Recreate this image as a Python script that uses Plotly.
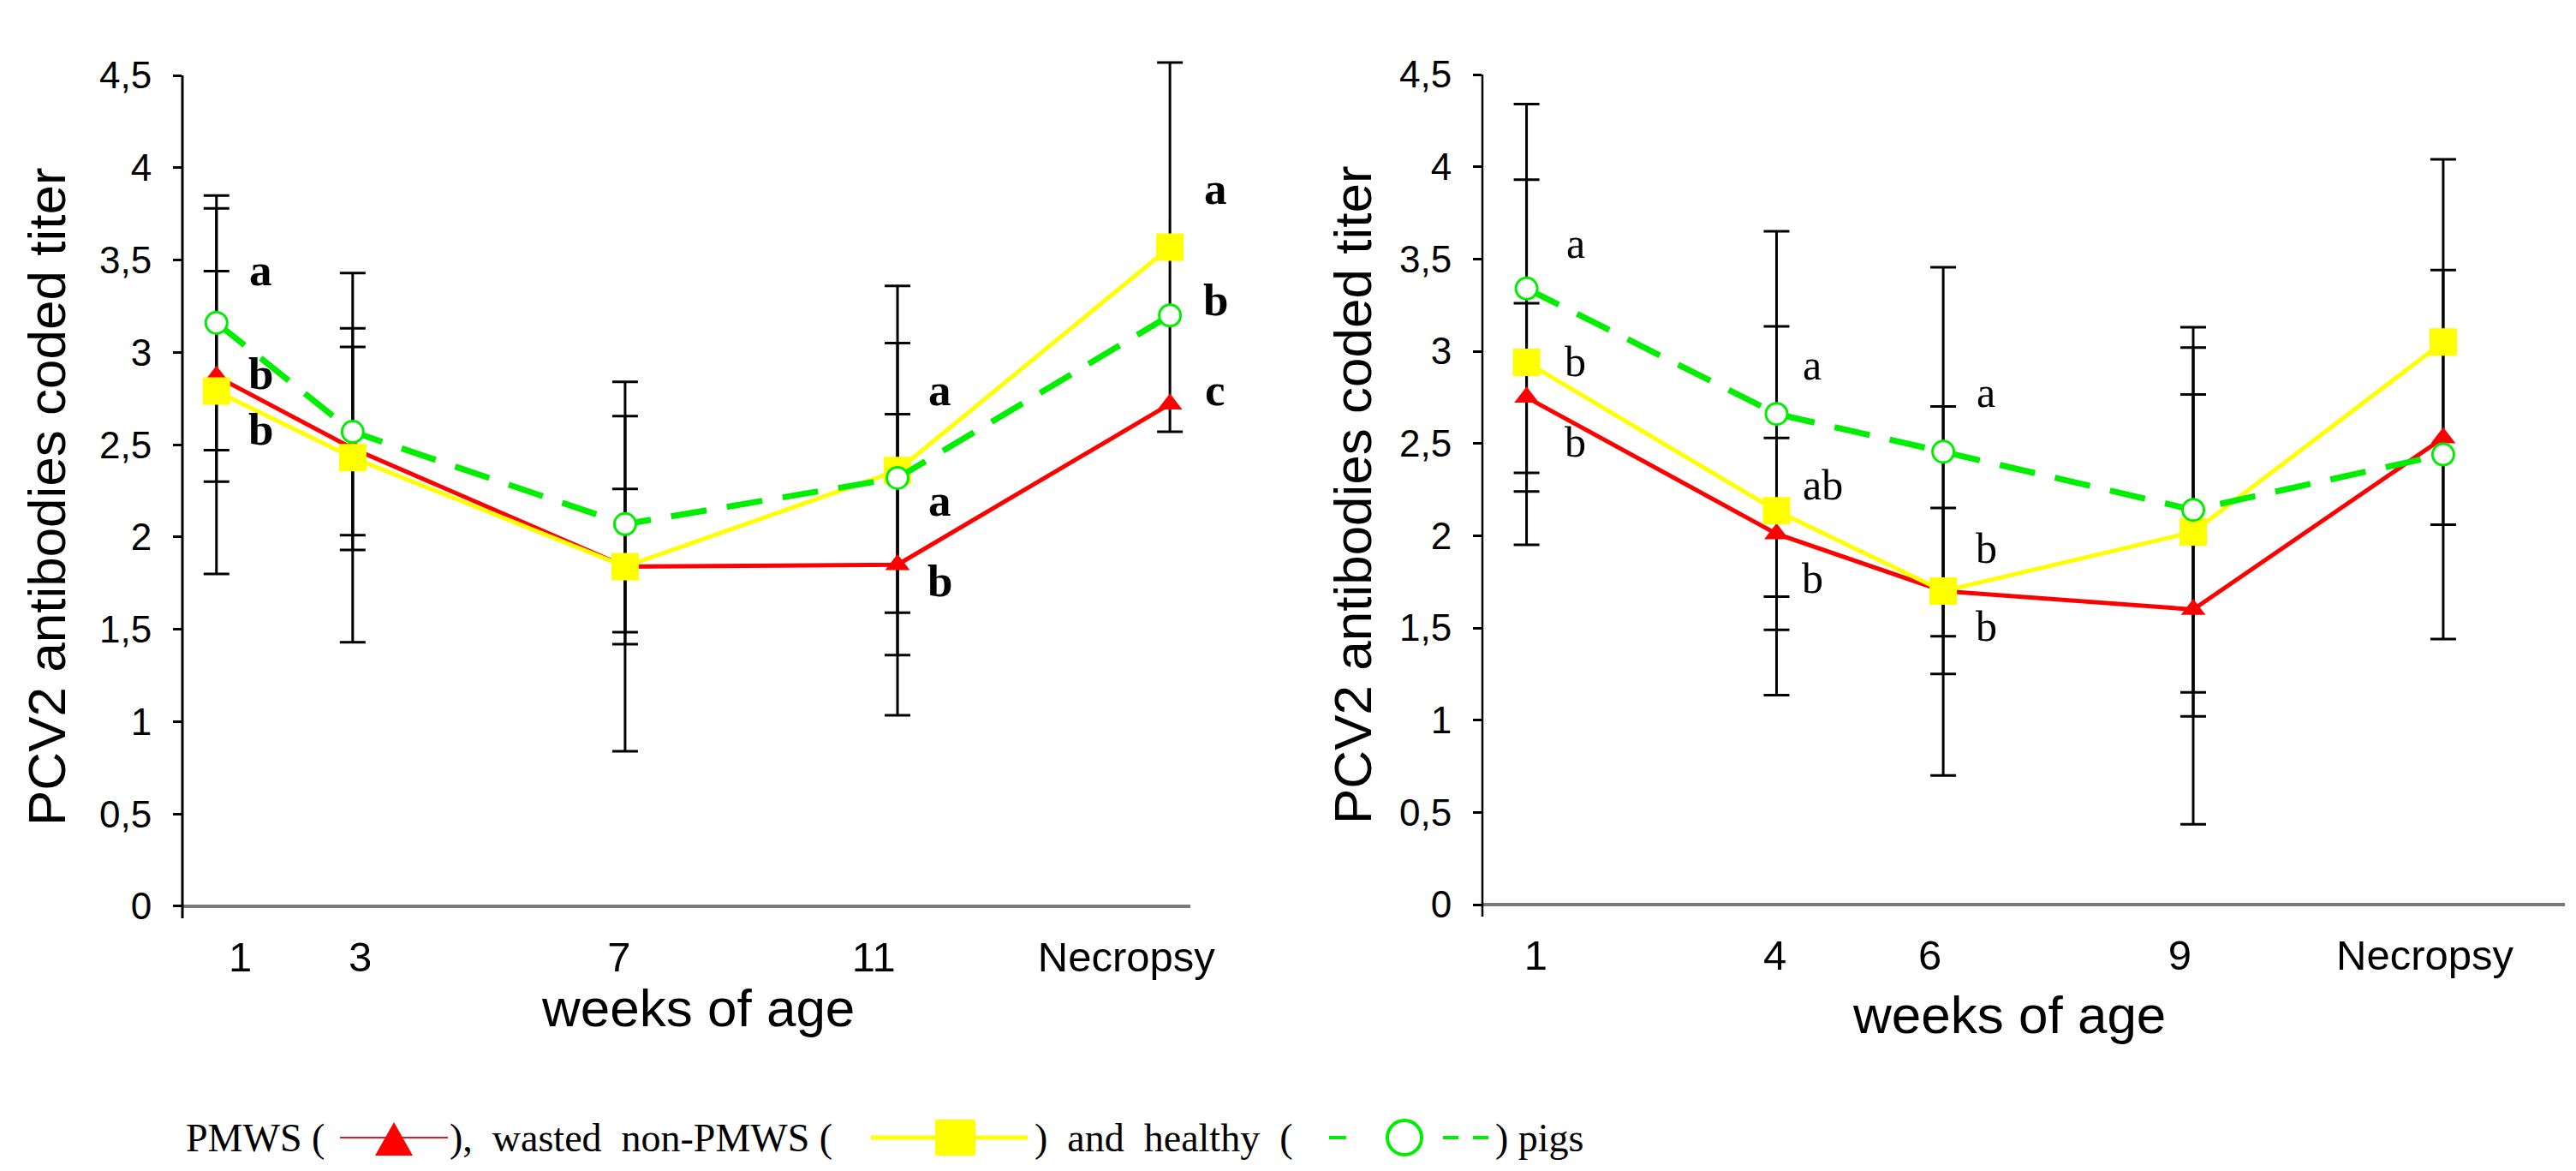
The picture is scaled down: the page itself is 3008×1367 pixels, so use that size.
import plotly.graph_objects as go

# ---------------- data ----------------
# Left panel: weeks of age (Necropsy drawn at week 15 on the same linear scale)
left_weeks = [1, 3, 7, 11, 15]
left_labels = ["1", "3", "7", "11", "Necropsy"]
left_pmws = [2.87, 2.48, 1.84, 1.85, 2.72]
left_pmws_err = [0.57, 0.55, 0.42, 0.815, None]
left_wasted = [2.79, 2.43, 1.84, 2.36, 3.57]
left_wasted_err = [0.99, 1.0, 1.0, 1.0, 1.0]
left_healthy = [3.16, 2.57, 2.07, 2.32, 3.20]
left_healthy_err = [0.69, 0.56, 0.585, 0.73, None]

# Right panel: weeks of age (Necropsy drawn at week 12)
right_weeks = [1, 4, 6, 9, 12]
right_labels = ["1", "4", "6", "9", "Necropsy"]
right_pmws = [2.75, 2.01, 1.70, 1.60, 2.53]
right_pmws_err = [0.51, 0.52, 0.45, 1.165, None]
right_wasted = [2.94, 2.135, 1.70, 2.02, 3.05]
right_wasted_err = [0.99, 1.0, 1.0, 1.0, 0.99]
right_healthy = [3.34, 2.66, 2.455, 2.14, 2.44]
right_healthy_err = [1.0, 0.99, 1.0, 0.99, 1.0]

y_tick_vals = [0, 0.5, 1, 1.5, 2, 2.5, 3, 3.5, 4, 4.5]
y_tick_text = ["0", "0,5", "1", "1,5", "2", "2,5", "3", "3,5", "4", "4,5"]

# significance letters (text, week they belong to, titer level)
left_letters = [("a", 1, 3.40), ("b", 1, 2.84), ("b", 1, 2.54),
                ("a", 11, 2.75), ("a", 11, 2.153), ("b", 11, 1.717),
                ("a", 15, 3.84), ("b", 15, 3.24), ("c", 15, 2.75)]
right_letters = [("a", 1, 3.54), ("b", 1, 2.90), ("b", 1, 2.46),
                 ("a", 4, 2.88), ("ab", 4, 2.229), ("b", 4, 1.723),
                 ("a", 6, 2.73), ("b", 6, 1.886), ("b", 6, 1.463)]

# ---------------- layout constants ----------------
W, H = 3008, 1367
RED, YELLOW, GREEN = "#ff0000", "#ffff00", "#00ee00"
SANS = "Liberation Sans, Arial, sans-serif"
SERIF = "Liberation Serif, Times New Roman, serif"
left_label_pos = [1.35, 3.11, 6.91, 10.65, 14.36]
right_label_pos = [1.11, 3.98, 5.84, 8.84, 11.78]
left_letter_shift = {1: 52, 11: 49, 15: 53}
right_letter_shift = {1: 57, 4: 42, 6: 50}
Y_TOP_AXIS = 4.5          # the drawn y-axis line stops at the last tick
Y_RANGE = [-0.065, 4.65]  # a little head-room so the tallest error bar is not clipped


def px(x):
    return x / W


def py(y):
    return 1 - y / H


fig = go.Figure()


def add_panel(xs, series, xa, ya):
    # error bars first (beneath lines and markers)
    for vals, errs, _ in series:
        idx = [i for i, e in enumerate(errs) if e is not None]
        fig.add_trace(go.Scatter(
            x=[xs[i] for i in idx], y=[vals[i] for i in idx],
            mode="markers", marker=dict(size=1, opacity=0), cliponaxis=False,
            error_y=dict(type="data", array=[errs[i] for i in idx],
                         color="black", thickness=3, width=15),
            xaxis=xa, yaxis=ya, showlegend=False, hoverinfo="skip"))
    for vals, errs, style in series:
        fig.add_trace(go.Scatter(x=xs, y=vals, mode="lines+markers", cliponaxis=False,
                                 xaxis=xa, yaxis=ya, showlegend=False, **style))


st_red = dict(line=dict(color=RED, width=5),
              marker=dict(symbol="triangle-up", size=25, color=RED))
st_yel = dict(line=dict(color=YELLOW, width=5),
              marker=dict(symbol="square", size=32, color=YELLOW))
st_grn = dict(line=dict(color=GREEN, width=7, dash="42px,24px"),
              marker=dict(symbol="circle", size=25, color="white",
                          line=dict(color=GREEN, width=3)))

add_panel(left_weeks, [(left_pmws, left_pmws_err, st_red),
                       (left_wasted, left_wasted_err, st_yel),
                       (left_healthy, left_healthy_err, st_grn)], "x", "y")
add_panel(right_weeks, [(right_pmws, right_pmws_err, st_red),
                        (right_wasted, right_wasted_err, st_yel),
                        (right_healthy, right_healthy_err, st_grn)], "x2", "y2")

xcommon = dict(showline=False, ticks="", showgrid=False, zeroline=False,
               automargin=False, ticklabelstandoff=12,
               tickfont=dict(family=SANS, size=49, color="black"))
ycommon = dict(range=Y_RANGE, showline=False, automargin=False,
               ticks="outside", ticklen=10, tickwidth=3, tickcolor="black",
               tickvals=y_tick_vals, ticktext=y_tick_text, showgrid=False,
               zeroline=True, zerolinecolor="#7a7a7a", zerolinewidth=4,
               ticklabelstandoff=16,
               tickfont=dict(family=SANS, size=44, color="black"))

annotations = []
for t, x, y in left_letters:
    annotations.append(dict(text="<b>" + t + "</b>", x=x, y=y, xref="x", yref="y",
                            xshift=left_letter_shift[x], yshift=10,
                            xanchor="center", yanchor="middle", showarrow=False,
                            font=dict(family=SERIF, size=53, color="black")))
for t, x, y in right_letters:
    sh = right_letter_shift[x] + (12 if len(t) > 1 else 0)
    annotations.append(dict(text=t, x=x, y=y, xref="x2", yref="y2",
                            xshift=sh, yshift=10,
                            xanchor="center", yanchor="middle", showarrow=False,
                            font=dict(family=SERIF, size=50, color="black")))

title_font = dict(family=SANS, size=62, color="black")
annotations += [
    dict(text="PCV2 antibodies coded titer", textangle=-90, x=px(54), y=py(580),
         xref="paper", yref="paper", xanchor="center", yanchor="middle",
         showarrow=False, font=title_font),
    dict(text="PCV2 antibodies coded titer", textangle=-90, x=px(1580), y=py(578),
         xref="paper", yref="paper", xanchor="center", yanchor="middle",
         showarrow=False, font=title_font),
    dict(text="weeks of age", x=px(815), y=py(1176), xref="paper", yref="paper",
         xanchor="center", yanchor="middle", showarrow=False, font=title_font),
    dict(text="weeks of age", x=px(2346), y=py(1184), xref="paper", yref="paper",
         xanchor="center", yanchor="middle", showarrow=False, font=title_font),
]

# bottom key line (text pieces + drawn symbols)
LY = 1328
leg_font = dict(family=SERIF, size=46, color="black")
for txt, x0 in [("PMWS (", 215), ("),  wasted  non-PMWS (", 523),
                (")  and  healthy  (", 1206), (") pigs", 1744)]:
    annotations.append(dict(text=txt, x=px(x0), y=py(LY), xref="paper", yref="paper",
                            xanchor="left", yanchor="middle", showarrow=False, font=leg_font))

shapes = [
    # y-axis lines, stopping at the 4,5 tick
    dict(type="line", xref="x domain", yref="y", x0=0, x1=0, y0=Y_RANGE[0], y1=Y_TOP_AXIS,
         line=dict(color="black", width=3)),
    dict(type="line", xref="x2 domain", yref="y2", x0=0, x1=0, y0=Y_RANGE[0], y1=Y_TOP_AXIS,
         line=dict(color="black", width=2.5)),
    # key symbols
    dict(type="line", xref="paper", yref="paper", x0=px(397), x1=px(523), y0=py(LY), y1=py(LY),
         line=dict(color="#e02020", width=2)),
    dict(type="path", xref="paper", yref="paper",
         path=f"M {px(438)},{py(LY+21)} L {px(482)},{py(LY+21)} L {px(460)},{py(LY-18)} Z",
         fillcolor=RED, line=dict(width=0)),
    dict(type="line", xref="paper", yref="paper", x0=px(1017), x1=px(1200), y0=py(LY), y1=py(LY),
         line=dict(color=YELLOW, width=5)),
    dict(type="rect", xref="paper", yref="paper", x0=px(1092), x1=px(1139), y0=py(LY+21), y1=py(LY-21),
         fillcolor=YELLOW, line=dict(width=0)),
    dict(type="line", xref="paper", yref="paper", x0=px(1552), x1=px(1572), y0=py(LY), y1=py(LY),
         line=dict(color=GREEN, width=4)),
    dict(type="line", xref="paper", yref="paper", x0=px(1685), x1=px(1703), y0=py(LY), y1=py(LY),
         line=dict(color=GREEN, width=4)),
    dict(type="line", xref="paper", yref="paper", x0=px(1720), x1=px(1738), y0=py(LY), y1=py(LY),
         line=dict(color=GREEN, width=4)),
    dict(type="circle", xref="paper", yref="paper", x0=px(1620), x1=px(1660), y0=py(LY+20), y1=py(LY-20),
         fillcolor="white", line=dict(color=GREEN, width=4)),
]

fig.update_layout(
    template="none",
    width=W, height=H, margin=dict(l=0, r=0, t=0, b=0, pad=0),
    paper_bgcolor="white", plot_bgcolor="white", showlegend=False,
    xaxis=dict(domain=[px(213), px(1390)], range=[0.5, 15.3],
               tickvals=left_label_pos, ticktext=left_labels, **xcommon),
    yaxis=dict(domain=[py(1072), py(55.7)], anchor="x", **ycommon),
    xaxis2=dict(domain=[px(1731), px(2995)], range=[0.47, 13.46], anchor="y2",
                tickvals=right_label_pos, ticktext=right_labels, **xcommon),
    yaxis2=dict(domain=[py(1070), py(54.7)], anchor="x2", **ycommon),
    annotations=annotations, shapes=shapes,
)

fig.write_html("out.html")
